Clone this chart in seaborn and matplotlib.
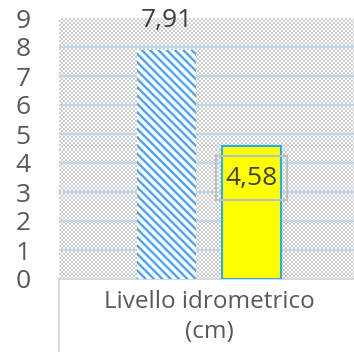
import numpy as np
import pandas as pd
import matplotlib
matplotlib.use('Agg')
import matplotlib.pyplot as plt
from matplotlib.patches import Rectangle
import seaborn as sns

# data
categories = ['Livello idrometrico\n(cm)']
series = ['Serie 1', 'Serie 2']
values = [7.91, 4.58]
value_labels = ['7,91', '4,58']
y_ticks = list(range(0, 10))

df = pd.DataFrame({'cat': categories * len(series), 'serie': series, 'val': values})

sns.set_theme(style='white')
plt.rcParams['font.family'] = ['Open Sans', 'DejaVu Sans']
plt.rcParams['hatch.linewidth'] = 1.7
plt.rcParams['hatch.color'] = '#4da3f5'

fig = plt.figure(figsize=(3.54, 3.52), dpi=100)
ax = fig.add_axes([59 / 354, 1 - 279 / 352, 300 / 354, 261 / 352])

# checkered plot-area fill
checker = np.indices((130, 150)).sum(axis=0) % 2
ax.imshow(checker, cmap=matplotlib.colors.ListedColormap(['white', '#cccccc']),
          extent=(-0.5, 0.5, 0, 9), aspect='auto', interpolation='nearest', zorder=0)

for yv in y_ticks[1:-1]:
    ax.axhline(yv, color='#bdd7ee', lw=1.5, zorder=1)

sns.barplot(data=df, x='cat', y='val', hue='serie', width=0.567, gap=0.3,
            palette=['white', '#ffff00'], saturation=1, legend=False, ax=ax, zorder=2)

bars = ax.patches
bars[0].set_hatch('\\\\\\\\')
bars[0].set_edgecolor('#4da3f5')
bars[0].set_linewidth(0)
bars[1].set_edgecolor('#1fb0ee')
bars[1].set_linewidth(1.5)

# data labels
b0 = bars[0]
ax.annotate(value_labels[0], (b0.get_x() + b0.get_width() / 2, values[0]),
            xytext=(0, 12), textcoords='offset points', ha='center', va='bottom',
            fontsize=19, color='#404040', zorder=5, annotation_clip=False)
b1 = bars[1]
ax.text(b1.get_x() + b1.get_width() / 2, values[1] - 1.1, value_labels[1],
        ha='center', va='center', fontsize=19, color='#404040', zorder=5,
        bbox=dict(boxstyle='square,pad=0.36', fc='none', ec='#bfbfbf', lw=1.5))

ax.set_xlim(-0.5, 0.5)
ax.set_ylim(0, 9)
ax.set_yticks(y_ticks)
ax.set_yticklabels([str(t) for t in y_ticks], fontsize=19, color='#595959')
ax.tick_params(axis='y', length=0, pad=26)
ax.tick_params(axis='x', length=0, pad=8, labelsize=17.5, colors='#595959')
for lbl in ax.get_yticklabels():
    lbl.set_horizontalalignment('center')
for lbl in ax.get_xticklabels():
    lbl.set_linespacing(1.3)
ax.set_xlabel('')
ax.set_ylabel('')
for s in ax.spines.values():
    s.set_visible(False)

# category box below the plot area
ax.add_patch(Rectangle((0, -0.5), 1.2, 0.5, transform=ax.transAxes, fill=False,
                       ec='#d9d9d9', lw=1.5, clip_on=False, zorder=0))

fig.savefig('out.png', dpi=100)
